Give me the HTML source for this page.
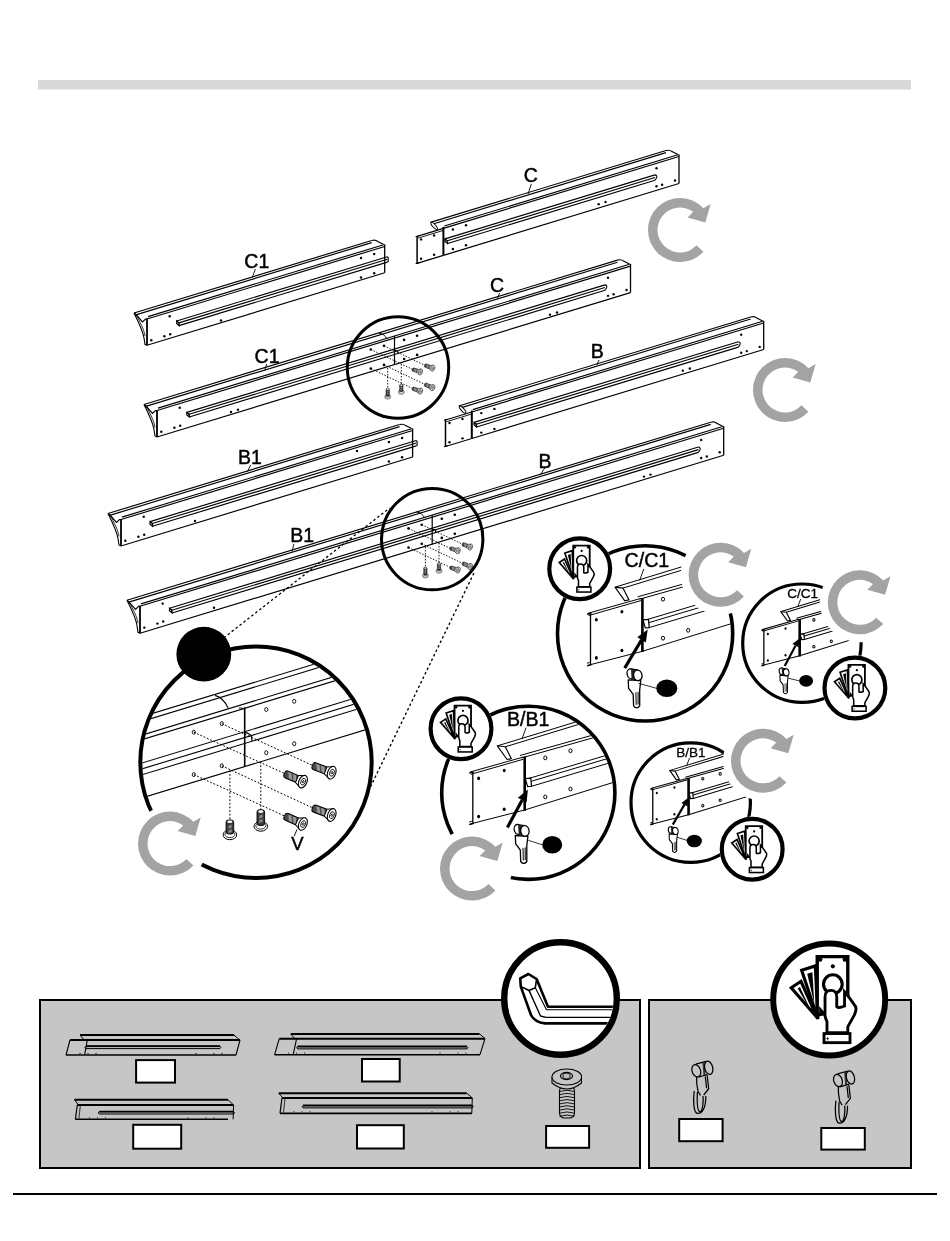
<!DOCTYPE html>
<html><head><meta charset="utf-8"><title>Assembly</title>
<style>html,body{margin:0;padding:0;background:#fff;} body{width:950px;height:1241px;position:relative;overflow:hidden;font-family:"Liberation Sans",sans-serif;}</style>
</head><body>
<svg width="950" height="1241" viewBox="0 0 950 1241" style="position:absolute;left:0;top:0;will-change:transform">
<rect x="0" y="0" width="950" height="1241" fill="#fff"/>
<rect x="38" y="80" width="873" height="9.5" fill="#d8d8d8"/>
<g stroke="#000" fill="none">
<polygon points="443.4,228.4 679,156.54 679,183.54 443.4,255.4" fill="#fff" stroke="none"/>
<line x1="443.4" y1="228.4" x2="679" y2="156.54" stroke="#000" stroke-width="1.15" />
<line x1="444.4" y1="226" x2="678" y2="154.75" stroke="#000" stroke-width="1.15" />
<line x1="430.4" y1="222.4" x2="666" y2="150.54" stroke="#000" stroke-width="1.15" />
<line x1="431.4" y1="224.5" x2="666" y2="152.64" stroke="#000" stroke-width="1.15" />
<path d="M666,150.54 Q670,149.54 672,151.54 L678,154.54" stroke="#000" stroke-width="1.15" fill="none" />
<line x1="679" y1="154.34" x2="679" y2="183.54" stroke="#000" stroke-width="1.3" />
<line x1="443.4" y1="255.4" x2="679" y2="183.54" stroke="#000" stroke-width="1.15" />
<line x1="445" y1="238.91" x2="655" y2="174.86" stroke="#000" stroke-width="1.15" />
<line x1="446.5" y1="241.05" x2="655" y2="177.46" stroke="#000" stroke-width="1.15" />
<line x1="447.5" y1="243.55" x2="655" y2="180.26" stroke="#000" stroke-width="1.15" />
<path d="M445,238.91 L445,241.41 L447.5,243.55 L447.5,240.75Z" stroke="#000" stroke-width="1.2" fill="none" />
<path d="M655,174.86 Q657.6,175.66 656.5,177.96 L655,180.26" stroke="#000" stroke-width="1.1" fill="none" />
<polygon points="417.1,236.42 443.4,228.4 443.4,255.4 417.1,263.42" fill="#fff" stroke="none"/>
<line x1="417.1" y1="236.42" x2="443.4" y2="228.4" stroke="#000" stroke-width="1.15" />
<line x1="418.1" y1="238.12" x2="443.4" y2="230.4" stroke="#000" stroke-width="0.9" />
<line x1="417.1" y1="235.92" x2="417.1" y2="263.92" stroke="#000" stroke-width="1.5" />
<line x1="415.6" y1="236.72" x2="419.1" y2="235.72" stroke="#000" stroke-width="1.15" />
<line x1="415.6" y1="263.72" x2="419.1" y2="262.72" stroke="#000" stroke-width="1.15" />
<line x1="417.1" y1="263.42" x2="443.4" y2="255.4" stroke="#000" stroke-width="1.15" />
<line x1="443.4" y1="226.9" x2="443.4" y2="255.4" stroke="#000" stroke-width="2.0" />
<ellipse cx="434.2" cy="226" rx="4.6" ry="1.5" transform="rotate(48 434.2 226)" stroke-width="1.0" fill="#fff"/>
<circle cx="421.1" cy="239.4" r="1.2" fill="#000" stroke="none"/>
<circle cx="434.1" cy="235.44" r="1.2" fill="#000" stroke="none"/>
<circle cx="421.1" cy="258.7" r="1.2" fill="#000" stroke="none"/>
<circle cx="434.1" cy="254.74" r="1.2" fill="#000" stroke="none"/>
<circle cx="452.9" cy="229.5" r="1.2" fill="#000" stroke="none"/>
<circle cx="466" cy="225.31" r="1.2" fill="#000" stroke="none"/>
<circle cx="452.9" cy="249" r="1.2" fill="#000" stroke="none"/>
<circle cx="466" cy="245.31" r="1.2" fill="#000" stroke="none"/>
<circle cx="656.5" cy="168.2" r="1.2" fill="#000" stroke="none"/>
<circle cx="656.5" cy="186.3" r="1.2" fill="#000" stroke="none"/>
<circle cx="662.1" cy="184.7" r="1.2" fill="#000" stroke="none"/>
<circle cx="675" cy="180.46" r="1.2" fill="#000" stroke="none"/>
<circle cx="598.7" cy="204.13" r="1.2" fill="#000" stroke="none"/>
<circle cx="605.5" cy="202.06" r="1.2" fill="#000" stroke="none"/>
</g>
<g stroke="#000" fill="none">
<polygon points="147,319 384.7,246.5 384.7,272.8 147,345.3" fill="#fff" stroke="none"/>
<line x1="147" y1="319" x2="384.7" y2="246.5" stroke="#000" stroke-width="1.15" />
<line x1="148" y1="316.59" x2="383.7" y2="244.71" stroke="#000" stroke-width="1.15" />
<line x1="134" y1="313" x2="371.7" y2="240.5" stroke="#000" stroke-width="1.15" />
<line x1="135" y1="315.1" x2="371.7" y2="242.6" stroke="#000" stroke-width="1.15" />
<path d="M371.7,240.5 Q375.7,239.5 377.7,241.5 L383.7,244.5" stroke="#000" stroke-width="1.15" fill="none" />
<line x1="384.7" y1="244.3" x2="384.7" y2="272.8" stroke="#000" stroke-width="1.3" />
<line x1="147" y1="345.3" x2="384.7" y2="272.8" stroke="#000" stroke-width="1.15" />
<line x1="176.6" y1="320.97" x2="387.4" y2="256.68" stroke="#000" stroke-width="1.15" />
<line x1="178.1" y1="323.11" x2="387.4" y2="259.28" stroke="#000" stroke-width="1.15" />
<line x1="179.1" y1="325.61" x2="387.4" y2="262.08" stroke="#000" stroke-width="1.15" />
<path d="M176.6,320.97 L176.6,323.47 L179.1,325.61 L179.1,322.81Z" stroke="#000" stroke-width="1.2" fill="none" />
<path d="M387.4,256.68 L388.2,257.88 L388.2,261.58 L387.4,262.08" stroke="#000" stroke-width="1.1" fill="none" />
<path d="M134,313 L136,314.5 L142.5,322 L145.5,319 L147,319" stroke="#000" stroke-width="1.15" fill="none" />
<path d="M134,313 C139,323 143,331 144,338 L145,344.3 L147,345.3" stroke="#000" stroke-width="1.1" fill="none" />
<path d="M136,314.5 C140,322 144,329 145,336" stroke="#000" stroke-width="0.8" fill="none" />
<line x1="147" y1="318.5" x2="147" y2="345.3" stroke="#000" stroke-width="1.8" />
<circle cx="169.7" cy="316.28" r="1.2" fill="#000" stroke="none"/>
<circle cx="151.3" cy="340.29" r="1.2" fill="#000" stroke="none"/>
<circle cx="164.4" cy="336.29" r="1.2" fill="#000" stroke="none"/>
<circle cx="170.2" cy="334.22" r="1.2" fill="#000" stroke="none"/>
<circle cx="361" cy="257.93" r="1.2" fill="#000" stroke="none"/>
<circle cx="374.2" cy="254" r="1.2" fill="#000" stroke="none"/>
<circle cx="361" cy="277.43" r="1.2" fill="#000" stroke="none"/>
<circle cx="374.2" cy="273.2" r="1.2" fill="#000" stroke="none"/>
<circle cx="221" cy="320.43" r="1.2" fill="#000" stroke="none"/>
</g>
<g stroke="#000" fill="none">
<polygon points="157,410.5 630.5,266.08 630.5,292.58 157,437" fill="#fff" stroke="none"/>
<line x1="157" y1="410.5" x2="630.5" y2="266.08" stroke="#000" stroke-width="1.15" />
<line x1="158" y1="408.09" x2="629.5" y2="264.29" stroke="#000" stroke-width="1.15" />
<line x1="144" y1="404.5" x2="617.5" y2="260.08" stroke="#000" stroke-width="1.15" />
<line x1="145" y1="406.6" x2="617.5" y2="262.18" stroke="#000" stroke-width="1.15" />
<path d="M617.5,260.08 Q621.5,259.08 623.5,261.08 L629.5,264.08" stroke="#000" stroke-width="1.15" fill="none" />
<line x1="630.5" y1="263.88" x2="630.5" y2="292.58" stroke="#000" stroke-width="1.3" />
<line x1="157" y1="437" x2="630.5" y2="292.58" stroke="#000" stroke-width="1.15" />
<line x1="186.8" y1="412.41" x2="605" y2="284.86" stroke="#000" stroke-width="1.15" />
<line x1="188.3" y1="414.55" x2="605" y2="287.46" stroke="#000" stroke-width="1.15" />
<line x1="189.3" y1="417.05" x2="605" y2="290.26" stroke="#000" stroke-width="1.15" />
<path d="M186.8,412.41 L186.8,414.91 L189.3,417.05 L189.3,414.25Z" stroke="#000" stroke-width="1.2" fill="none" />
<path d="M605,284.86 Q607.6,285.66 606.5,287.96 L605,290.26" stroke="#000" stroke-width="1.1" fill="none" />
<path d="M144,404.5 L146,406 L152.5,413.5 L155.5,410.5 L157,410.5" stroke="#000" stroke-width="1.15" fill="none" />
<path d="M144,404.5 C149,414.5 153,422.5 154,429.5 L155,436 L157,437" stroke="#000" stroke-width="1.1" fill="none" />
<path d="M146,406 C150,413.5 154,420.5 155,427.5" stroke="#000" stroke-width="0.8" fill="none" />
<line x1="157" y1="410" x2="157" y2="437" stroke="#000" stroke-width="1.8" />
<line x1="394.5" y1="336.06" x2="394.5" y2="364.56" stroke="#000" stroke-width="1.2" />
<circle cx="179.7" cy="407.78" r="1.2" fill="#000" stroke="none"/>
<circle cx="161.3" cy="431.79" r="1.2" fill="#000" stroke="none"/>
<circle cx="174.4" cy="427.79" r="1.2" fill="#000" stroke="none"/>
<circle cx="180.2" cy="425.72" r="1.2" fill="#000" stroke="none"/>
<circle cx="608" cy="277.75" r="1.2" fill="#000" stroke="none"/>
<circle cx="608" cy="295.84" r="1.2" fill="#000" stroke="none"/>
<circle cx="613.6" cy="294.24" r="1.2" fill="#000" stroke="none"/>
<circle cx="626.5" cy="290" r="1.2" fill="#000" stroke="none"/>
<circle cx="231" cy="411.93" r="1.2" fill="#000" stroke="none"/>
<circle cx="238" cy="409.8" r="1.2" fill="#000" stroke="none"/>
<circle cx="550" cy="314.63" r="1.2" fill="#000" stroke="none"/>
<circle cx="557" cy="312.5" r="1.2" fill="#000" stroke="none"/>
</g>
<g stroke="#000" fill="none">
<polygon points="471.8,412 763.7,322.97 763.7,349.47 471.8,438.5" fill="#fff" stroke="none"/>
<line x1="471.8" y1="412" x2="763.7" y2="322.97" stroke="#000" stroke-width="1.15" />
<line x1="472.8" y1="409.59" x2="762.7" y2="321.18" stroke="#000" stroke-width="1.15" />
<line x1="458.8" y1="406" x2="750.7" y2="316.97" stroke="#000" stroke-width="1.15" />
<line x1="459.8" y1="408.1" x2="750.7" y2="319.07" stroke="#000" stroke-width="1.15" />
<path d="M750.7,316.97 Q754.7,315.97 756.7,317.97 L762.7,320.97" stroke="#000" stroke-width="1.15" fill="none" />
<line x1="763.7" y1="320.77" x2="763.7" y2="349.47" stroke="#000" stroke-width="1.3" />
<line x1="471.8" y1="438.5" x2="763.7" y2="349.47" stroke="#000" stroke-width="1.15" />
<line x1="474" y1="422.33" x2="738.4" y2="341.69" stroke="#000" stroke-width="1.15" />
<line x1="475.5" y1="424.47" x2="738.4" y2="344.29" stroke="#000" stroke-width="1.15" />
<line x1="476.5" y1="426.97" x2="738.4" y2="347.09" stroke="#000" stroke-width="1.15" />
<path d="M474,422.33 L474,424.83 L476.5,426.97 L476.5,424.17Z" stroke="#000" stroke-width="1.2" fill="none" />
<path d="M738.4,341.69 Q741,342.49 739.9,344.79 L738.4,347.09" stroke="#000" stroke-width="1.1" fill="none" />
<polygon points="445.5,420.02 471.8,412 471.8,438.5 445.5,446.52" fill="#fff" stroke="none"/>
<line x1="445.5" y1="420.02" x2="471.8" y2="412" stroke="#000" stroke-width="1.15" />
<line x1="446.5" y1="421.72" x2="471.8" y2="414" stroke="#000" stroke-width="0.9" />
<line x1="445.5" y1="419.52" x2="445.5" y2="447.02" stroke="#000" stroke-width="1.5" />
<line x1="444" y1="420.32" x2="447.5" y2="419.32" stroke="#000" stroke-width="1.15" />
<line x1="444" y1="446.82" x2="447.5" y2="445.82" stroke="#000" stroke-width="1.15" />
<line x1="445.5" y1="446.52" x2="471.8" y2="438.5" stroke="#000" stroke-width="1.15" />
<line x1="471.8" y1="410.5" x2="471.8" y2="438.5" stroke="#000" stroke-width="2.0" />
<ellipse cx="462.6" cy="409.6" rx="4.6" ry="1.5" transform="rotate(48 462.6 409.6)" stroke-width="1.0" fill="#fff"/>
<circle cx="449.5" cy="423" r="1.2" fill="#000" stroke="none"/>
<circle cx="462.5" cy="419.04" r="1.2" fill="#000" stroke="none"/>
<circle cx="449.5" cy="442.3" r="1.2" fill="#000" stroke="none"/>
<circle cx="462.5" cy="438.34" r="1.2" fill="#000" stroke="none"/>
<circle cx="481.3" cy="413.1" r="1.2" fill="#000" stroke="none"/>
<circle cx="494.4" cy="408.91" r="1.2" fill="#000" stroke="none"/>
<circle cx="481.3" cy="432.6" r="1.2" fill="#000" stroke="none"/>
<circle cx="494.4" cy="428.91" r="1.2" fill="#000" stroke="none"/>
<circle cx="741.2" cy="334.63" r="1.2" fill="#000" stroke="none"/>
<circle cx="741.2" cy="352.73" r="1.2" fill="#000" stroke="none"/>
<circle cx="746.8" cy="351.12" r="1.2" fill="#000" stroke="none"/>
<circle cx="759.7" cy="346.89" r="1.2" fill="#000" stroke="none"/>
<circle cx="682.8" cy="370.65" r="1.2" fill="#000" stroke="none"/>
<circle cx="689.8" cy="368.51" r="1.2" fill="#000" stroke="none"/>
</g>
<g stroke="#000" fill="none">
<polygon points="121,519.5 412.6,430.56 412.6,457.06 121,546" fill="#fff" stroke="none"/>
<line x1="121" y1="519.5" x2="412.6" y2="430.56" stroke="#000" stroke-width="1.15" />
<line x1="122" y1="517.1" x2="411.6" y2="428.77" stroke="#000" stroke-width="1.15" />
<line x1="108" y1="513.5" x2="399.6" y2="424.56" stroke="#000" stroke-width="1.15" />
<line x1="109" y1="515.6" x2="399.6" y2="426.66" stroke="#000" stroke-width="1.15" />
<path d="M399.6,424.56 Q403.6,423.56 405.6,425.56 L411.6,428.56" stroke="#000" stroke-width="1.15" fill="none" />
<line x1="412.6" y1="428.36" x2="412.6" y2="457.06" stroke="#000" stroke-width="1.3" />
<line x1="121" y1="546" x2="412.6" y2="457.06" stroke="#000" stroke-width="1.15" />
<line x1="150" y1="521.65" x2="416.3" y2="440.43" stroke="#000" stroke-width="1.15" />
<line x1="151.5" y1="523.8" x2="416.3" y2="443.03" stroke="#000" stroke-width="1.15" />
<line x1="152.5" y1="526.29" x2="416.3" y2="445.83" stroke="#000" stroke-width="1.15" />
<path d="M150,521.65 L150,524.15 L152.5,526.29 L152.5,523.49Z" stroke="#000" stroke-width="1.2" fill="none" />
<path d="M416.3,440.43 L417.1,441.63 L417.1,445.33 L416.3,445.83" stroke="#000" stroke-width="1.1" fill="none" />
<path d="M108,513.5 L110,515 L116.5,522.5 L119.5,519.5 L121,519.5" stroke="#000" stroke-width="1.15" fill="none" />
<path d="M108,513.5 C113,523.5 117,531.5 118,538.5 L119,545 L121,546" stroke="#000" stroke-width="1.1" fill="none" />
<path d="M110,515 C114,522.5 118,529.5 119,536.5" stroke="#000" stroke-width="0.8" fill="none" />
<line x1="121" y1="519" x2="121" y2="546" stroke="#000" stroke-width="1.8" />
<circle cx="143.7" cy="516.78" r="1.2" fill="#000" stroke="none"/>
<circle cx="125.3" cy="540.79" r="1.2" fill="#000" stroke="none"/>
<circle cx="138.4" cy="536.79" r="1.2" fill="#000" stroke="none"/>
<circle cx="144.2" cy="534.72" r="1.2" fill="#000" stroke="none"/>
<circle cx="388.9" cy="441.99" r="1.2" fill="#000" stroke="none"/>
<circle cx="402.1" cy="438.06" r="1.2" fill="#000" stroke="none"/>
<circle cx="388.9" cy="461.49" r="1.2" fill="#000" stroke="none"/>
<circle cx="402.1" cy="457.26" r="1.2" fill="#000" stroke="none"/>
<circle cx="195" cy="520.93" r="1.2" fill="#000" stroke="none"/>
<circle cx="357" cy="451.02" r="1.2" fill="#000" stroke="none"/>
</g>
<g stroke="#000" fill="none">
<polygon points="140,606.3 723.7,428.27 723.7,455.27 140,633.3" fill="#fff" stroke="none"/>
<line x1="140" y1="606.3" x2="723.7" y2="428.27" stroke="#000" stroke-width="1.15" />
<line x1="141" y1="603.89" x2="722.7" y2="426.48" stroke="#000" stroke-width="1.15" />
<line x1="127" y1="600.3" x2="710.7" y2="422.27" stroke="#000" stroke-width="1.15" />
<line x1="128" y1="602.4" x2="710.7" y2="424.37" stroke="#000" stroke-width="1.15" />
<path d="M710.7,422.27 Q714.7,421.27 716.7,423.27 L722.7,426.27" stroke="#000" stroke-width="1.15" fill="none" />
<line x1="723.7" y1="426.07" x2="723.7" y2="455.27" stroke="#000" stroke-width="1.3" />
<line x1="140" y1="633.3" x2="723.7" y2="455.27" stroke="#000" stroke-width="1.15" />
<line x1="169.5" y1="608.3" x2="698.4" y2="446.99" stroke="#000" stroke-width="1.15" />
<line x1="171" y1="610.44" x2="698.4" y2="449.59" stroke="#000" stroke-width="1.15" />
<line x1="172" y1="612.94" x2="698.4" y2="452.39" stroke="#000" stroke-width="1.15" />
<path d="M169.5,608.3 L169.5,610.8 L172,612.94 L172,610.14Z" stroke="#000" stroke-width="1.2" fill="none" />
<path d="M698.4,446.99 Q701,447.79 699.9,450.09 L698.4,452.39" stroke="#000" stroke-width="1.1" fill="none" />
<path d="M127,600.3 L129,601.8 L135.5,609.3 L138.5,606.3 L140,606.3" stroke="#000" stroke-width="1.15" fill="none" />
<path d="M127,600.3 C132,610.3 136,618.3 137,625.3 L138,632.3 L140,633.3" stroke="#000" stroke-width="1.1" fill="none" />
<path d="M129,601.8 C133,609.3 137,616.3 138,623.3" stroke="#000" stroke-width="0.8" fill="none" />
<line x1="140" y1="605.8" x2="140" y2="633.3" stroke="#000" stroke-width="1.8" />
<line x1="432.2" y1="515.18" x2="432.2" y2="544.18" stroke="#000" stroke-width="1.2" />
<circle cx="162.7" cy="603.58" r="1.2" fill="#000" stroke="none"/>
<circle cx="144.3" cy="627.59" r="1.2" fill="#000" stroke="none"/>
<circle cx="157.4" cy="623.59" r="1.2" fill="#000" stroke="none"/>
<circle cx="163.2" cy="621.52" r="1.2" fill="#000" stroke="none"/>
<circle cx="701.2" cy="439.93" r="1.2" fill="#000" stroke="none"/>
<circle cx="701.2" cy="458.03" r="1.2" fill="#000" stroke="none"/>
<circle cx="706.8" cy="456.43" r="1.2" fill="#000" stroke="none"/>
<circle cx="719.7" cy="452.19" r="1.2" fill="#000" stroke="none"/>
<circle cx="214" cy="607.73" r="1.2" fill="#000" stroke="none"/>
<circle cx="644" cy="476.58" r="1.2" fill="#000" stroke="none"/>
<circle cx="650.5" cy="474.6" r="1.2" fill="#000" stroke="none"/>
</g>
<text x="523.8" y="182.2" font-size="19.5" font-family="Liberation Sans, sans-serif" fill="#000" stroke="#000" stroke-width="0.45">C</text>
<line x1="531.4" y1="183.9" x2="528" y2="194" stroke="#000" stroke-width="0.9"/>
<text x="244.3" y="267.9" font-size="19.5" font-family="Liberation Sans, sans-serif" fill="#000" stroke="#000" stroke-width="0.45">C1</text>
<line x1="255.4" y1="269" x2="252.3" y2="277.4" stroke="#000" stroke-width="0.9"/>
<text x="254.6" y="362.6" font-size="19.5" font-family="Liberation Sans, sans-serif" fill="#000" stroke="#000" stroke-width="0.45">C1</text>
<line x1="266.7" y1="364" x2="264.8" y2="370.2" stroke="#000" stroke-width="0.9"/>
<text x="489.9" y="292" font-size="19.5" font-family="Liberation Sans, sans-serif" fill="#000" stroke="#000" stroke-width="0.45">C</text>
<line x1="499.6" y1="293" x2="497.4" y2="298.6" stroke="#000" stroke-width="0.9"/>
<text x="590.7" y="358.3" font-size="19.5" font-family="Liberation Sans, sans-serif" fill="#000" stroke="#000" stroke-width="0.45">B</text>
<line x1="599" y1="360" x2="596.8" y2="365" stroke="#000" stroke-width="0.9"/>
<text x="238.1" y="464" font-size="19.5" font-family="Liberation Sans, sans-serif" fill="#000" stroke="#000" stroke-width="0.45">B1</text>
<line x1="250.6" y1="465" x2="247.5" y2="471.7" stroke="#000" stroke-width="0.9"/>
<text x="538.4" y="467.6" font-size="19.5" font-family="Liberation Sans, sans-serif" fill="#000" stroke="#000" stroke-width="0.45">B</text>
<line x1="544.7" y1="468" x2="540.5" y2="474.7" stroke="#000" stroke-width="0.9"/>
<text x="290.2" y="542.1" font-size="19.5" font-family="Liberation Sans, sans-serif" fill="#000" stroke="#000" stroke-width="0.45">B1</text>
<line x1="293.9" y1="544" x2="292" y2="551.6" stroke="#000" stroke-width="0.9"/>
<circle cx="370.8" cy="349.5" r="1.3" fill="#000" stroke="none"/>
<circle cx="384" cy="345.8" r="1.3" fill="#000" stroke="none"/>
<circle cx="370.8" cy="368.6" r="1.3" fill="#000" stroke="none"/>
<circle cx="384" cy="364.9" r="1.3" fill="#000" stroke="none"/>
<circle cx="404.1" cy="339.9" r="1.3" fill="#000" stroke="none"/>
<circle cx="417.1" cy="335.8" r="1.3" fill="#000" stroke="none"/>
<circle cx="404.1" cy="359" r="1.3" fill="#000" stroke="none"/>
<circle cx="417.1" cy="354.9" r="1.3" fill="#000" stroke="none"/>
<line x1="384" y1="345.8" x2="424.6" y2="365.2" stroke="#000" stroke-width="0.9" stroke-dasharray="1.5 1.5"/>
<line x1="370.8" y1="349.5" x2="412.3" y2="369.3" stroke="#000" stroke-width="0.9" stroke-dasharray="1.5 1.5"/>
<line x1="384" y1="364.9" x2="424.6" y2="384.3" stroke="#000" stroke-width="0.9" stroke-dasharray="1.5 1.5"/>
<line x1="370.8" y1="368.6" x2="412.3" y2="388.4" stroke="#000" stroke-width="0.9" stroke-dasharray="1.5 1.5"/>
<line x1="387.7" y1="368" x2="387.7" y2="388.4" stroke="#000" stroke-width="0.9" stroke-dasharray="1.5 1.5"/>
<line x1="401.3" y1="364" x2="401.3" y2="384.3" stroke="#000" stroke-width="0.9" stroke-dasharray="1.5 1.5"/>
<g transform="translate(424.6,365.2) rotate(20.1)" stroke="#000">
<rect x="0" y="-1.78" width="6.57" height="3.55" rx="1.24" fill="#4a4a4a" stroke-width="0.48"/>
<path d="M1.44,-1.39 L3.07,-1.39 L4.51,1.39 L2.88,1.39 Z" fill="#9a9a9a" stroke="none"/>
<path d="M3.84,-1.39 L5.47,-1.39 L6.91,1.39 L5.28,1.39 Z" fill="#9a9a9a" stroke="none"/>
<path d="M5.61,-1.78 L8.49,-3.07 L8.49,3.07 L5.61,1.78 Z" fill="#fff" stroke-width="0.48"/>
<ellipse cx="8.73" cy="0" rx="1.92" ry="3.17" fill="#fff" stroke-width="0.53"/>
<ellipse cx="8.88" cy="0" rx="1.06" ry="1.73" fill="none" stroke-width="0.38"/>
<ellipse cx="8.88" cy="0" rx="0.38" ry="0.62" fill="none" stroke-width="0.38"/>
</g>
<g transform="translate(412.3,369.3) rotate(18.23)" stroke="#000">
<rect x="0" y="-1.78" width="6.47" height="3.55" rx="1.24" fill="#4a4a4a" stroke-width="0.48"/>
<path d="M1.44,-1.39 L3.07,-1.39 L4.51,1.39 L2.88,1.39 Z" fill="#9a9a9a" stroke="none"/>
<path d="M3.84,-1.39 L5.47,-1.39 L6.91,1.39 L5.28,1.39 Z" fill="#9a9a9a" stroke="none"/>
<path d="M5.51,-1.78 L8.39,-3.07 L8.39,3.07 L5.51,1.78 Z" fill="#fff" stroke-width="0.48"/>
<ellipse cx="8.63" cy="0" rx="1.92" ry="3.17" fill="#fff" stroke-width="0.53"/>
<ellipse cx="8.78" cy="0" rx="1.06" ry="1.73" fill="none" stroke-width="0.38"/>
<ellipse cx="8.78" cy="0" rx="0.38" ry="0.62" fill="none" stroke-width="0.38"/>
</g>
<g transform="translate(424.6,384.3) rotate(23.11)" stroke="#000">
<rect x="0" y="-1.78" width="6.76" height="3.55" rx="1.24" fill="#4a4a4a" stroke-width="0.48"/>
<path d="M1.44,-1.39 L3.07,-1.39 L4.51,1.39 L2.88,1.39 Z" fill="#9a9a9a" stroke="none"/>
<path d="M3.84,-1.39 L5.47,-1.39 L6.91,1.39 L5.28,1.39 Z" fill="#9a9a9a" stroke="none"/>
<path d="M5.8,-1.78 L8.68,-3.07 L8.68,3.07 L5.8,1.78 Z" fill="#fff" stroke-width="0.48"/>
<ellipse cx="8.92" cy="0" rx="1.92" ry="3.17" fill="#fff" stroke-width="0.53"/>
<ellipse cx="9.06" cy="0" rx="1.06" ry="1.73" fill="none" stroke-width="0.38"/>
<ellipse cx="9.06" cy="0" rx="0.38" ry="0.62" fill="none" stroke-width="0.38"/>
</g>
<g transform="translate(412.3,388.4) rotate(18.85)" stroke="#000">
<rect x="0" y="-1.78" width="6.5" height="3.55" rx="1.24" fill="#4a4a4a" stroke-width="0.48"/>
<path d="M1.44,-1.39 L3.07,-1.39 L4.51,1.39 L2.88,1.39 Z" fill="#9a9a9a" stroke="none"/>
<path d="M3.84,-1.39 L5.47,-1.39 L6.91,1.39 L5.28,1.39 Z" fill="#9a9a9a" stroke="none"/>
<path d="M5.54,-1.78 L8.42,-3.07 L8.42,3.07 L5.54,1.78 Z" fill="#fff" stroke-width="0.48"/>
<ellipse cx="8.66" cy="0" rx="1.92" ry="3.17" fill="#fff" stroke-width="0.53"/>
<ellipse cx="8.81" cy="0" rx="1.06" ry="1.73" fill="none" stroke-width="0.38"/>
<ellipse cx="8.81" cy="0" rx="0.38" ry="0.62" fill="none" stroke-width="0.38"/>
</g>
<ellipse cx="387.7" cy="396.86" rx="3.06" ry="2.21" fill="#fff" stroke="#000" stroke-width="0.45"/>
<ellipse cx="387.7" cy="396.63" rx="2.25" ry="1.48" fill="#fff" stroke="#000" stroke-width="0.36"/>
<rect x="385.99" y="388.4" width="3.42" height="8.1" rx="1.03" fill="#3a3a3a" stroke="#000" stroke-width="0.41"/>
<ellipse cx="387.7" cy="389.21" rx="1.17" ry="0.59" fill="#fff" stroke="none"/>
<path d="M387.02,391.1 L388.51,390.42 L388.51,391.77 L387.02,392.45 Z" fill="#8a8a8a" stroke="none"/>
<path d="M387.02,393.12 L388.51,392.45 L388.51,393.8 L387.02,394.48 Z" fill="#8a8a8a" stroke="none"/>
<ellipse cx="401.3" cy="392.16" rx="3.06" ry="2.21" fill="#fff" stroke="#000" stroke-width="0.45"/>
<ellipse cx="401.3" cy="391.94" rx="2.25" ry="1.48" fill="#fff" stroke="#000" stroke-width="0.36"/>
<rect x="399.59" y="384.3" width="3.42" height="7.5" rx="1.03" fill="#3a3a3a" stroke="#000" stroke-width="0.41"/>
<ellipse cx="401.3" cy="385.11" rx="1.17" ry="0.59" fill="#fff" stroke="none"/>
<path d="M400.62,387 L402.11,386.32 L402.11,387.68 L400.62,388.35 Z" fill="#8a8a8a" stroke="none"/>
<path d="M400.62,389.03 L402.11,388.35 L402.11,389.7 L400.62,390.38 Z" fill="#8a8a8a" stroke="none"/>
<path d="M378.8,333 Q384.5,333.8 387,339.2" stroke="#000" stroke-width="1.0" fill="none" />
<path d="M394.5,350.1 L397.9,351.3 L397.9,353.6" stroke="#000" stroke-width="1.0" fill="none" />
<circle cx="398" cy="367.5" r="50.7" fill="none" stroke="#000" stroke-width="3"/>
<circle cx="408.5" cy="528.4" r="1.3" fill="#000" stroke="none"/>
<circle cx="421.7" cy="524.7" r="1.3" fill="#000" stroke="none"/>
<circle cx="408.5" cy="547.5" r="1.3" fill="#000" stroke="none"/>
<circle cx="421.7" cy="543.8" r="1.3" fill="#000" stroke="none"/>
<circle cx="441.8" cy="518.8" r="1.3" fill="#000" stroke="none"/>
<circle cx="454.8" cy="514.7" r="1.3" fill="#000" stroke="none"/>
<circle cx="441.8" cy="537.9" r="1.3" fill="#000" stroke="none"/>
<circle cx="454.8" cy="533.8" r="1.3" fill="#000" stroke="none"/>
<line x1="421.7" y1="524.7" x2="462.3" y2="544.1" stroke="#000" stroke-width="0.9" stroke-dasharray="1.5 1.5"/>
<line x1="408.5" y1="528.4" x2="450" y2="548.2" stroke="#000" stroke-width="0.9" stroke-dasharray="1.5 1.5"/>
<line x1="421.7" y1="543.8" x2="462.3" y2="563.2" stroke="#000" stroke-width="0.9" stroke-dasharray="1.5 1.5"/>
<line x1="408.5" y1="547.5" x2="450" y2="567.3" stroke="#000" stroke-width="0.9" stroke-dasharray="1.5 1.5"/>
<line x1="425.4" y1="546.9" x2="425.4" y2="567.3" stroke="#000" stroke-width="0.9" stroke-dasharray="1.5 1.5"/>
<line x1="439" y1="542.9" x2="439" y2="563.2" stroke="#000" stroke-width="0.9" stroke-dasharray="1.5 1.5"/>
<g transform="translate(462.3,544.1) rotate(20.1)" stroke="#000">
<rect x="0" y="-1.78" width="6.57" height="3.55" rx="1.24" fill="#4a4a4a" stroke-width="0.48"/>
<path d="M1.44,-1.39 L3.07,-1.39 L4.51,1.39 L2.88,1.39 Z" fill="#9a9a9a" stroke="none"/>
<path d="M3.84,-1.39 L5.47,-1.39 L6.91,1.39 L5.28,1.39 Z" fill="#9a9a9a" stroke="none"/>
<path d="M5.61,-1.78 L8.49,-3.07 L8.49,3.07 L5.61,1.78 Z" fill="#fff" stroke-width="0.48"/>
<ellipse cx="8.73" cy="0" rx="1.92" ry="3.17" fill="#fff" stroke-width="0.53"/>
<ellipse cx="8.88" cy="0" rx="1.06" ry="1.73" fill="none" stroke-width="0.38"/>
<ellipse cx="8.88" cy="0" rx="0.38" ry="0.62" fill="none" stroke-width="0.38"/>
</g>
<g transform="translate(450,548.2) rotate(18.23)" stroke="#000">
<rect x="0" y="-1.78" width="6.47" height="3.55" rx="1.24" fill="#4a4a4a" stroke-width="0.48"/>
<path d="M1.44,-1.39 L3.07,-1.39 L4.51,1.39 L2.88,1.39 Z" fill="#9a9a9a" stroke="none"/>
<path d="M3.84,-1.39 L5.47,-1.39 L6.91,1.39 L5.28,1.39 Z" fill="#9a9a9a" stroke="none"/>
<path d="M5.51,-1.78 L8.39,-3.07 L8.39,3.07 L5.51,1.78 Z" fill="#fff" stroke-width="0.48"/>
<ellipse cx="8.63" cy="0" rx="1.92" ry="3.17" fill="#fff" stroke-width="0.53"/>
<ellipse cx="8.78" cy="0" rx="1.06" ry="1.73" fill="none" stroke-width="0.38"/>
<ellipse cx="8.78" cy="0" rx="0.38" ry="0.62" fill="none" stroke-width="0.38"/>
</g>
<g transform="translate(462.3,563.2) rotate(23.11)" stroke="#000">
<rect x="0" y="-1.78" width="6.76" height="3.55" rx="1.24" fill="#4a4a4a" stroke-width="0.48"/>
<path d="M1.44,-1.39 L3.07,-1.39 L4.51,1.39 L2.88,1.39 Z" fill="#9a9a9a" stroke="none"/>
<path d="M3.84,-1.39 L5.47,-1.39 L6.91,1.39 L5.28,1.39 Z" fill="#9a9a9a" stroke="none"/>
<path d="M5.8,-1.78 L8.68,-3.07 L8.68,3.07 L5.8,1.78 Z" fill="#fff" stroke-width="0.48"/>
<ellipse cx="8.92" cy="0" rx="1.92" ry="3.17" fill="#fff" stroke-width="0.53"/>
<ellipse cx="9.06" cy="0" rx="1.06" ry="1.73" fill="none" stroke-width="0.38"/>
<ellipse cx="9.06" cy="0" rx="0.38" ry="0.62" fill="none" stroke-width="0.38"/>
</g>
<g transform="translate(450,567.3) rotate(18.85)" stroke="#000">
<rect x="0" y="-1.78" width="6.5" height="3.55" rx="1.24" fill="#4a4a4a" stroke-width="0.48"/>
<path d="M1.44,-1.39 L3.07,-1.39 L4.51,1.39 L2.88,1.39 Z" fill="#9a9a9a" stroke="none"/>
<path d="M3.84,-1.39 L5.47,-1.39 L6.91,1.39 L5.28,1.39 Z" fill="#9a9a9a" stroke="none"/>
<path d="M5.54,-1.78 L8.42,-3.07 L8.42,3.07 L5.54,1.78 Z" fill="#fff" stroke-width="0.48"/>
<ellipse cx="8.66" cy="0" rx="1.92" ry="3.17" fill="#fff" stroke-width="0.53"/>
<ellipse cx="8.81" cy="0" rx="1.06" ry="1.73" fill="none" stroke-width="0.38"/>
<ellipse cx="8.81" cy="0" rx="0.38" ry="0.62" fill="none" stroke-width="0.38"/>
</g>
<ellipse cx="425.4" cy="575.76" rx="3.06" ry="2.21" fill="#fff" stroke="#000" stroke-width="0.45"/>
<ellipse cx="425.4" cy="575.54" rx="2.25" ry="1.48" fill="#fff" stroke="#000" stroke-width="0.36"/>
<rect x="423.69" y="567.3" width="3.42" height="8.1" rx="1.03" fill="#3a3a3a" stroke="#000" stroke-width="0.41"/>
<ellipse cx="425.4" cy="568.11" rx="1.17" ry="0.59" fill="#fff" stroke="none"/>
<path d="M424.72,570 L426.21,569.33 L426.21,570.67 L424.72,571.35 Z" fill="#8a8a8a" stroke="none"/>
<path d="M424.72,572.02 L426.21,571.35 L426.21,572.7 L424.72,573.38 Z" fill="#8a8a8a" stroke="none"/>
<ellipse cx="439" cy="571.06" rx="3.06" ry="2.21" fill="#fff" stroke="#000" stroke-width="0.45"/>
<ellipse cx="439" cy="570.84" rx="2.25" ry="1.48" fill="#fff" stroke="#000" stroke-width="0.36"/>
<rect x="437.29" y="563.2" width="3.42" height="7.5" rx="1.03" fill="#3a3a3a" stroke="#000" stroke-width="0.41"/>
<ellipse cx="439" cy="564.01" rx="1.17" ry="0.59" fill="#fff" stroke="none"/>
<path d="M438.32,565.9 L439.81,565.23 L439.81,566.58 L438.32,567.25 Z" fill="#8a8a8a" stroke="none"/>
<path d="M438.32,567.93 L439.81,567.25 L439.81,568.6 L438.32,569.28 Z" fill="#8a8a8a" stroke="none"/>
<path d="M416.5,511.9 Q422.2,512.7 424.7,518.1" stroke="#000" stroke-width="1.0" fill="none" />
<path d="M432.2,529 L435.6,530.2 L435.6,532.5" stroke="#000" stroke-width="1.0" fill="none" />
<circle cx="432.2" cy="539.1" r="50.7" fill="none" stroke="#000" stroke-width="3"/>
<path d="M703.4,208.18 L710.7,203.9 L705.3,222.4 L687.6,217.4 L693.23,211.8 A22.5,22.5 0 1,0 696.46,245.34 L703.4,251.82 A32,32 0 1,1 703.4,208.18 Z" fill="#a3a3a3" stroke="none"/>
<path d="M808.4,368.18 L815.7,363.9 L810.3,382.4 L792.6,377.4 L798.23,371.8 A22.5,22.5 0 1,0 801.46,405.34 L808.4,411.82 A32,32 0 1,1 808.4,368.18 Z" fill="#a3a3a3" stroke="none"/>
<line x1="223.8" y1="637.8" x2="389.6" y2="508" stroke="#000" stroke-width="1.3" stroke-dasharray="2.5 2.5"/>
<line x1="473.9" y1="573.1" x2="370.1" y2="787.6" stroke="#000" stroke-width="1.3" stroke-dasharray="2.5 2.5"/>
<defs><clipPath id="bigc"><circle cx="256" cy="762.3" r="113.7"/></clipPath></defs>
<circle cx="256" cy="762.3" r="115.7" fill="#fff" stroke="none"/>
<g clip-path="url(#bigc)" stroke="#000" fill="none">
<line x1="130" y1="720.35" x2="380" y2="644.1" stroke="#000" stroke-width="1.1" />
<line x1="130" y1="725.05" x2="380" y2="648.8" stroke="#000" stroke-width="1.1" />
<line x1="130" y1="738.85" x2="380" y2="662.6" stroke="#000" stroke-width="1.1" />
<line x1="130" y1="743.25" x2="380" y2="667" stroke="#000" stroke-width="1.1" />
<line x1="130" y1="766.65" x2="380" y2="690.4" stroke="#000" stroke-width="1.1" />
<line x1="130" y1="772.55" x2="380" y2="696.3" stroke="#000" stroke-width="1.1" />
<line x1="130" y1="778.45" x2="380" y2="702.2" stroke="#000" stroke-width="1.1" />
<line x1="130" y1="801.55" x2="380" y2="725.3" stroke="#000" stroke-width="1.1" />
<line x1="244.7" y1="707.2" x2="244.7" y2="766.8" stroke="#000" stroke-width="1.6" />
<path d="M215,695.4 Q224,698 228.4,708.6" stroke="#000" stroke-width="1.1" fill="none" />
<path d="M244.5,732.3 Q249.5,732.8 251.5,736.5 L252,741" stroke="#000" stroke-width="1.2" fill="none" />
<path d="M239,708 Q243,707.6 244.7,709.5" stroke="#000" stroke-width="1.1" fill="none" />
</g>
<ellipse cx="221.8" cy="723.7" rx="1.6" ry="2" fill="none" stroke="#000" stroke-width="0.9"/>
<ellipse cx="193.8" cy="732.2" rx="1.6" ry="2" fill="none" stroke="#000" stroke-width="0.9"/>
<ellipse cx="221.8" cy="765.8" rx="1.6" ry="2" fill="none" stroke="#000" stroke-width="0.9"/>
<ellipse cx="193.8" cy="774.6" rx="1.6" ry="2" fill="none" stroke="#000" stroke-width="0.9"/>
<ellipse cx="266.3" cy="709.5" rx="1.6" ry="2" fill="none" stroke="#000" stroke-width="0.9"/>
<ellipse cx="294.2" cy="701.3" rx="1.6" ry="2" fill="none" stroke="#000" stroke-width="0.9"/>
<ellipse cx="294.2" cy="743.7" rx="1.6" ry="2" fill="none" stroke="#000" stroke-width="0.9"/>
<ellipse cx="266.3" cy="752.7" rx="1.6" ry="2" fill="none" stroke="#000" stroke-width="0.9"/>
<line x1="221.8" y1="723.7" x2="312.5" y2="765.4" stroke="#000" stroke-width="1.0" stroke-dasharray="1.8 1.8"/>
<line x1="193.8" y1="732.2" x2="284.5" y2="773.5" stroke="#000" stroke-width="1.0" stroke-dasharray="1.8 1.8"/>
<line x1="221.8" y1="765.8" x2="312.5" y2="807.8" stroke="#000" stroke-width="1.0" stroke-dasharray="1.8 1.8"/>
<line x1="193.8" y1="774.6" x2="284.5" y2="815.9" stroke="#000" stroke-width="1.0" stroke-dasharray="1.8 1.8"/>
<line x1="229.9" y1="770.5" x2="229.9" y2="821" stroke="#000" stroke-width="1.0" stroke-dasharray="1.8 1.8"/>
<line x1="260.8" y1="761.7" x2="260.8" y2="810.2" stroke="#000" stroke-width="1.0" stroke-dasharray="1.8 1.8"/>
<g transform="translate(312.5,765.4) rotate(20.82)" stroke="#000">
<rect x="0" y="-3.7" width="16.04" height="7.4" rx="2.59" fill="#4a4a4a" stroke-width="1"/>
<path d="M3,-2.9 L6.4,-2.9 L9.4,2.9 L6,2.9 Z" fill="#9a9a9a" stroke="none"/>
<path d="M8,-2.9 L11.4,-2.9 L14.4,2.9 L11,2.9 Z" fill="#9a9a9a" stroke="none"/>
<path d="M14.04,-3.7 L20.04,-6.4 L20.04,6.4 L14.04,3.7 Z" fill="#fff" stroke-width="1"/>
<ellipse cx="20.54" cy="0" rx="4" ry="6.6" fill="#fff" stroke-width="1.1"/>
<ellipse cx="20.84" cy="0" rx="2.2" ry="3.6" fill="none" stroke-width="0.8"/>
<ellipse cx="20.84" cy="0" rx="0.8" ry="1.3" fill="none" stroke-width="0.8"/>
</g>
<g transform="translate(284.5,773.5) rotate(23.76)" stroke="#000">
<rect x="0" y="-3.7" width="15.6" height="7.4" rx="2.59" fill="#4a4a4a" stroke-width="1"/>
<path d="M3,-2.9 L6.4,-2.9 L9.4,2.9 L6,2.9 Z" fill="#9a9a9a" stroke="none"/>
<path d="M8,-2.9 L11.4,-2.9 L14.4,2.9 L11,2.9 Z" fill="#9a9a9a" stroke="none"/>
<path d="M13.6,-3.7 L19.6,-6.4 L19.6,6.4 L13.6,3.7 Z" fill="#fff" stroke-width="1"/>
<ellipse cx="20.1" cy="0" rx="4" ry="6.6" fill="#fff" stroke-width="1.1"/>
<ellipse cx="20.4" cy="0" rx="2.2" ry="3.6" fill="none" stroke-width="0.8"/>
<ellipse cx="20.4" cy="0" rx="0.8" ry="1.3" fill="none" stroke-width="0.8"/>
</g>
<g transform="translate(312.5,807.8) rotate(20.56)" stroke="#000">
<rect x="0" y="-3.7" width="16.01" height="7.4" rx="2.59" fill="#4a4a4a" stroke-width="1"/>
<path d="M3,-2.9 L6.4,-2.9 L9.4,2.9 L6,2.9 Z" fill="#9a9a9a" stroke="none"/>
<path d="M8,-2.9 L11.4,-2.9 L14.4,2.9 L11,2.9 Z" fill="#9a9a9a" stroke="none"/>
<path d="M14.01,-3.7 L20.01,-6.4 L20.01,6.4 L14.01,3.7 Z" fill="#fff" stroke-width="1"/>
<ellipse cx="20.51" cy="0" rx="4" ry="6.6" fill="#fff" stroke-width="1.1"/>
<ellipse cx="20.81" cy="0" rx="2.2" ry="3.6" fill="none" stroke-width="0.8"/>
<ellipse cx="20.81" cy="0" rx="0.8" ry="1.3" fill="none" stroke-width="0.8"/>
</g>
<g transform="translate(284.5,815.9) rotate(23.76)" stroke="#000">
<rect x="0" y="-3.7" width="15.6" height="7.4" rx="2.59" fill="#4a4a4a" stroke-width="1"/>
<path d="M3,-2.9 L6.4,-2.9 L9.4,2.9 L6,2.9 Z" fill="#9a9a9a" stroke="none"/>
<path d="M8,-2.9 L11.4,-2.9 L14.4,2.9 L11,2.9 Z" fill="#9a9a9a" stroke="none"/>
<path d="M13.6,-3.7 L19.6,-6.4 L19.6,6.4 L13.6,3.7 Z" fill="#fff" stroke-width="1"/>
<ellipse cx="20.1" cy="0" rx="4" ry="6.6" fill="#fff" stroke-width="1.1"/>
<ellipse cx="20.4" cy="0" rx="2.2" ry="3.6" fill="none" stroke-width="0.8"/>
<ellipse cx="20.4" cy="0" rx="0.8" ry="1.3" fill="none" stroke-width="0.8"/>
</g>
<ellipse cx="229.9" cy="834.8" rx="6.8" ry="4.9" fill="#fff" stroke="#000" stroke-width="1"/>
<ellipse cx="229.9" cy="834.3" rx="5" ry="3.3" fill="#fff" stroke="#000" stroke-width="0.8"/>
<rect x="226.1" y="820" width="7.6" height="14" rx="2.28" fill="#3a3a3a" stroke="#000" stroke-width="0.9"/>
<ellipse cx="229.9" cy="821.8" rx="2.6" ry="1.3" fill="#fff" stroke="none"/>
<path d="M228.4,826 L231.7,824.5 L231.7,827.5 L228.4,829 Z" fill="#8a8a8a" stroke="none"/>
<path d="M228.4,830.5 L231.7,829 L231.7,832 L228.4,833.5 Z" fill="#8a8a8a" stroke="none"/>
<ellipse cx="260.8" cy="826.3" rx="6.8" ry="4.9" fill="#fff" stroke="#000" stroke-width="1"/>
<ellipse cx="260.8" cy="825.8" rx="5" ry="3.3" fill="#fff" stroke="#000" stroke-width="0.8"/>
<rect x="257" y="809.8" width="7.6" height="15.7" rx="2.28" fill="#3a3a3a" stroke="#000" stroke-width="0.9"/>
<ellipse cx="260.8" cy="811.6" rx="2.6" ry="1.3" fill="#fff" stroke="none"/>
<path d="M259.3,815.8 L262.6,814.3 L262.6,817.3 L259.3,818.8 Z" fill="#8a8a8a" stroke="none"/>
<path d="M259.3,820.3 L262.6,818.8 L262.6,821.8 L259.3,823.3 Z" fill="#8a8a8a" stroke="none"/>
<circle cx="256" cy="762.3" r="115.7" fill="none" stroke="#000" stroke-width="4"/>
<text x="291.2" y="850.2" font-size="18.5" font-family="Liberation Sans, sans-serif" fill="#000" stroke="#000" stroke-width="0.45">V</text>
<line x1="297" y1="829.4" x2="294.2" y2="836.2" stroke="#000" stroke-width="0.9"/>
<circle cx="170" cy="843.6" r="38" fill="#fff" stroke="none"/>
<path d="M193.4,821.78 L200.7,817.5 L195.3,836 L177.6,831 L183.23,825.4 A22.5,22.5 0 1,0 186.46,858.94 L193.4,865.42 A32,32 0 1,1 193.4,821.78 Z" fill="#a3a3a3" stroke="none"/>
<circle cx="203.8" cy="654.2" r="27.4" fill="#000"/>
<defs><clipPath id="sc1"><circle cx="645.1" cy="633.4" r="85.8"/></clipPath></defs>
<circle cx="645.1" cy="633.4" r="87.6" fill="#fff" stroke="#000" stroke-width="3.6"/>
<g clip-path="url(#sc1)"><g transform="translate(587.5,613.4) scale(1)" stroke="#000" fill="none">
<path d="M0,0 L53.4,-15 M1,2.2 L53.4,-12.8" stroke-width="1"/>
<path d="M3,0 L3,51.5 M-0.5,1 L4,-0.3 M-0.5,52.5 L4,51.2" stroke-width="1.3"/>
<path d="M-0.3,52.1 L54.9,37.9 M-0.5,49.8 L2,49.2" stroke-width="1"/>
<path d="M50.2,-16.6 L160,-47.4 M52,-14.2 L160,-44.6" stroke-width="1"/>
<path d="M28.1,-26.4 L160,-66.6 M35.5,-25.3 L160,-63.3" stroke-width="1"/>
<path d="M27.5,-26.3 L35.5,-25.3 L41.5,-13.5 L37.3,-12.6 Z" stroke-width="1.15" fill="#fff" stroke-linejoin="round"/>
<path d="M56.5,7.1 L160,-23.8 M57.8,10.3 L160,-20.2 M61.7,14.2 L160,-15.3" stroke-width="1"/>
<path d="M55.5,6.5 L61,6 L61.7,14.2 L57.8,14.5 Z" stroke-width="1.2" fill="#fff"/>
<path d="M54.9,37.9 L160,5.2" stroke-width="1"/>
<path d="M54.9,-15.5 L54.9,38.7" stroke-width="2.6"/>
<ellipse cx="8.8" cy="6.3" rx="1.5" ry="1.8" fill="#000" stroke="none"/>
<ellipse cx="34.4" cy="-1.6" rx="1.5" ry="1.8" fill="#000" stroke="none"/>
<ellipse cx="8.8" cy="44.5" rx="1.5" ry="1.8" fill="#000" stroke="none"/>
<ellipse cx="34.4" cy="37.1" rx="1.5" ry="1.8" fill="#000" stroke="none"/>
<ellipse cx="75.5" cy="-14.2" rx="1.6" ry="1.9" stroke-width="1"/>
<ellipse cx="100.7" cy="-21.3" rx="1.6" ry="1.9" stroke-width="1"/>
<ellipse cx="75.5" cy="24.8" rx="1.6" ry="1.9" stroke-width="1"/>
<ellipse cx="100.7" cy="16.9" rx="1.6" ry="1.9" stroke-width="1"/>
</g>
</g>
<circle cx="720.6" cy="574.8" r="40" fill="#fff" stroke="none"/>
<path d="M744,552.98 L751.3,548.7 L745.9,567.2 L728.2,562.2 L733.83,556.6 A22.5,22.5 0 1,0 737.06,590.14 L744,596.62 A32,32 0 1,1 744,552.98 Z" fill="#a3a3a3" stroke="none"/>
<text x="624.6" y="567" font-size="19.6" font-family="Liberation Sans, sans-serif" fill="#000" stroke="#000" stroke-width="0.45">C/C1</text>
<line x1="643.8" y1="569" x2="639.6" y2="580.4" stroke="#000" stroke-width="0.9" />
<line x1="624.7" y1="668.1" x2="641.55" y2="639.9" stroke="#000" stroke-width="3.1" stroke-linecap="butt"/>
<polygon points="647.7,629.6 645.84,642.47 637.25,637.34" fill="#000" stroke="none"/>
<g transform="translate(637.8,675.3) scale(1)" stroke="#000" fill="none" stroke-width="1.3" stroke-linejoin="round">
<path d="M-9.6,4.6 L-9.2,13 L-4.6,19.1 L-4.2,30.6 Q-1.2,34.5 1.9,30.6 L1.9,14.5 L3,5.4 Z" fill="#fff"/>
<path d="M-1.9,17 L-1.6,29.5 M0.3,16.5 L0.3,29.3" stroke-width="1"/>
<path d="M-7.5,-6.3 L-0.5,-5.3 L0.5,5.3 L-6,3.5 Z" fill="#fff"/>
<ellipse cx="-6.9" cy="-1.5" rx="3.8" ry="5" transform="rotate(-12 -6.9 -1.5)" fill="#fff"/>
<path d="M-6.8,-6 L-3.6,-5.6 L-3.2,4.7 L-6.2,4 Z" fill="#222" stroke="none"/>
<ellipse cx="0" cy="0" rx="4.2" ry="5.3" transform="rotate(-12 0 0)" fill="#fff"/>
</g>
<line x1="638.6" y1="683.3" x2="656.5" y2="688.3" stroke="#000" stroke-width="0.8" />
<ellipse cx="666.8" cy="688.3" rx="10.5" ry="8.8" fill="#000"/>
<circle cx="579.7" cy="568.8" r="32.8" fill="#fff" stroke="none"/>
<circle cx="579.7" cy="568.8" r="30.4" fill="#fff" stroke="#000" stroke-width="4.2"/>
<g transform="translate(579.7,568.8) scale(0.07) translate(-487,-490)" stroke="#000" fill="none" stroke-linejoin="miter">
<path d="M195,400 L270,350 L395,630 Z" stroke-width="24" fill="#fff"/>
<path d="M245,405 L262,394 L350,585 Z" fill="#000" stroke="none"/>
<path d="M275,265 L380,232 L400,640 Z" stroke-width="24" fill="#fff"/>
<path d="M318,292 L358,280 L372,520 Z" fill="#000" stroke="none"/>
<path d="M395,610 L395,160 L630,160 L630,560 Z" stroke-width="26" fill="#fff"/>
<circle cx="418" cy="183" r="17" fill="#000" stroke="none"/><circle cx="607" cy="183" r="17" fill="#000" stroke="none"/>
<path d="M410,540 L460,600 L410,600 Z" fill="#000" stroke="none"/>
<circle cx="515" cy="235" r="16" fill="#000" stroke="none"/>
<circle cx="515" cy="372" r="72" stroke-width="24" fill="#fff"/>
<path d="M470,745 L470,660 Q450,620 455,590 L455,470 Q455,420 500,420 Q545,420 545,470 L545,545 Q560,560 605,540 L605,430 Q640,470 690,545 Q700,570 680,610 L630,700 L630,745 Z" stroke-width="22" fill="#fff"/>
<rect x="447" y="752" width="200" height="70" stroke-width="22" fill="#fff"/>
<path d="M475,780 L475,805 M465,790 L485,790" stroke-width="6"/>
</g>
<defs><clipPath id="sc2"><circle cx="801.9" cy="643.2" r="57.6"/></clipPath></defs>
<circle cx="801.9" cy="643.2" r="59.2" fill="#fff" stroke="#000" stroke-width="3.2"/>
<g clip-path="url(#sc2)"><g transform="translate(761.8,629.7) scale(0.69)" stroke="#000" fill="none">
<path d="M0,0 L53.4,-15 M1,2.2 L53.4,-12.8" stroke-width="1.45"/>
<path d="M3,0 L3,51.5 M-0.5,1 L4,-0.3 M-0.5,52.5 L4,51.2" stroke-width="1.88"/>
<path d="M-0.3,52.1 L54.9,37.9 M-0.5,49.8 L2,49.2" stroke-width="1.45"/>
<path d="M50.2,-16.6 L160,-47.4 M52,-14.2 L160,-44.6" stroke-width="1.45"/>
<path d="M28.1,-26.4 L160,-66.6 M35.5,-25.3 L160,-63.3" stroke-width="1.45"/>
<path d="M27.5,-26.3 L35.5,-25.3 L41.5,-13.5 L37.3,-12.6 Z" stroke-width="1.67" fill="#fff" stroke-linejoin="round"/>
<path d="M56.5,7.1 L160,-23.8 M57.8,10.3 L160,-20.2 M61.7,14.2 L160,-15.3" stroke-width="1.45"/>
<path d="M55.5,6.5 L61,6 L61.7,14.2 L57.8,14.5 Z" stroke-width="1.74" fill="#fff"/>
<path d="M54.9,37.9 L160,5.2" stroke-width="1.45"/>
<path d="M54.9,-15.5 L54.9,38.7" stroke-width="3.77"/>
<ellipse cx="8.8" cy="6.3" rx="1.5" ry="1.8" fill="#000" stroke="none"/>
<ellipse cx="34.4" cy="-1.6" rx="1.5" ry="1.8" fill="#000" stroke="none"/>
<ellipse cx="8.8" cy="44.5" rx="1.5" ry="1.8" fill="#000" stroke="none"/>
<ellipse cx="34.4" cy="37.1" rx="1.5" ry="1.8" fill="#000" stroke="none"/>
<ellipse cx="75.5" cy="-14.2" rx="1.6" ry="1.9" stroke-width="1.45"/>
<ellipse cx="100.7" cy="-21.3" rx="1.6" ry="1.9" stroke-width="1.45"/>
<ellipse cx="75.5" cy="24.8" rx="1.6" ry="1.9" stroke-width="1.45"/>
<ellipse cx="100.7" cy="16.9" rx="1.6" ry="1.9" stroke-width="1.45"/>
</g>
</g>
<circle cx="859.8" cy="602.3" r="40" fill="#fff" stroke="none"/>
<path d="M883.2,580.48 L890.5,576.2 L885.1,594.7 L867.4,589.7 L873.03,584.1 A22.5,22.5 0 1,0 876.26,617.64 L883.2,624.12 A32,32 0 1,1 883.2,580.48 Z" fill="#a3a3a3" stroke="none"/>
<text x="787.24" y="597.68" font-size="13.52" font-family="Liberation Sans, sans-serif" fill="#000" stroke="#000" stroke-width="0.31">C/C1</text>
<line x1="800.65" y1="599.06" x2="797.75" y2="606.93" stroke="#000" stroke-width="0.9" />
<line x1="784.7" y1="666" x2="795.51" y2="645.71" stroke="#000" stroke-width="2.139" stroke-linecap="butt"/>
<polygon points="799.4,638.4 798.55,647.33 792.46,644.09" fill="#000" stroke="none"/>
<g transform="translate(786.2,672.3) scale(0.66)" stroke="#000" fill="none" stroke-width="1.6" stroke-linejoin="round">
<path d="M-9.6,4.6 L-9.2,13 L-4.6,19.1 L-4.2,30.6 Q-1.2,34.5 1.9,30.6 L1.9,14.5 L3,5.4 Z" fill="#fff"/>
<path d="M-1.9,17 L-1.6,29.5 M0.3,16.5 L0.3,29.3" stroke-width="1"/>
<path d="M-7.5,-6.3 L-0.5,-5.3 L0.5,5.3 L-6,3.5 Z" fill="#fff"/>
<ellipse cx="-6.9" cy="-1.5" rx="3.8" ry="5" transform="rotate(-12 -6.9 -1.5)" fill="#fff"/>
<path d="M-6.8,-6 L-3.6,-5.6 L-3.2,4.7 L-6.2,4 Z" fill="#222" stroke="none"/>
<ellipse cx="0" cy="0" rx="4.2" ry="5.3" transform="rotate(-12 0 0)" fill="#fff"/>
</g>
<line x1="788.4" y1="678.2" x2="799" y2="680.8" stroke="#000" stroke-width="0.8" />
<ellipse cx="806.1" cy="680.8" rx="7" ry="5.9" fill="#000"/>
<circle cx="854.9" cy="688" r="32.8" fill="#fff" stroke="none"/>
<circle cx="854.9" cy="688" r="30.4" fill="#fff" stroke="#000" stroke-width="4.2"/>
<g transform="translate(854.9,688) scale(0.07) translate(-487,-490)" stroke="#000" fill="none" stroke-linejoin="miter">
<path d="M195,400 L270,350 L395,630 Z" stroke-width="24" fill="#fff"/>
<path d="M245,405 L262,394 L350,585 Z" fill="#000" stroke="none"/>
<path d="M275,265 L380,232 L400,640 Z" stroke-width="24" fill="#fff"/>
<path d="M318,292 L358,280 L372,520 Z" fill="#000" stroke="none"/>
<path d="M395,610 L395,160 L630,160 L630,560 Z" stroke-width="26" fill="#fff"/>
<circle cx="418" cy="183" r="17" fill="#000" stroke="none"/><circle cx="607" cy="183" r="17" fill="#000" stroke="none"/>
<path d="M410,540 L460,600 L410,600 Z" fill="#000" stroke="none"/>
<circle cx="515" cy="235" r="16" fill="#000" stroke="none"/>
<circle cx="515" cy="372" r="72" stroke-width="24" fill="#fff"/>
<path d="M470,745 L470,660 Q450,620 455,590 L455,470 Q455,420 500,420 Q545,420 545,470 L545,545 Q560,560 605,540 L605,430 Q640,470 690,545 Q700,570 680,610 L630,700 L630,745 Z" stroke-width="22" fill="#fff"/>
<rect x="447" y="752" width="200" height="70" stroke-width="22" fill="#fff"/>
<path d="M475,780 L475,805 M465,790 L485,790" stroke-width="6"/>
</g>
<defs><clipPath id="sc3"><circle cx="528.3" cy="792.8" r="84.8"/></clipPath></defs>
<circle cx="528.3" cy="792.8" r="86.6" fill="#fff" stroke="#000" stroke-width="3.6"/>
<g clip-path="url(#sc3)"><g transform="translate(469.8,772.1) scale(1)" stroke="#000" fill="none">
<path d="M0,0 L53.4,-15 M1,2.2 L53.4,-12.8" stroke-width="1"/>
<path d="M3,0 L3,51.5 M-0.5,1 L4,-0.3 M-0.5,52.5 L4,51.2" stroke-width="1.3"/>
<path d="M-0.3,52.1 L54.9,37.9 M-0.5,49.8 L2,49.2" stroke-width="1"/>
<path d="M50.2,-16.6 L160,-47.4 M52,-14.2 L160,-44.6" stroke-width="1"/>
<path d="M28.1,-26.4 L160,-66.6 M35.5,-25.3 L160,-63.3" stroke-width="1"/>
<path d="M27.5,-26.3 L35.5,-25.3 L41.5,-13.5 L37.3,-12.6 Z" stroke-width="1.15" fill="#fff" stroke-linejoin="round"/>
<path d="M56.5,7.1 L160,-23.8 M57.8,10.3 L160,-20.2 M61.7,14.2 L160,-15.3" stroke-width="1"/>
<path d="M55.5,6.5 L61,6 L61.7,14.2 L57.8,14.5 Z" stroke-width="1.2" fill="#fff"/>
<path d="M54.9,37.9 L160,5.2" stroke-width="1"/>
<path d="M54.9,-15.5 L54.9,38.7" stroke-width="2.6"/>
<ellipse cx="8.8" cy="6.3" rx="1.5" ry="1.8" fill="#000" stroke="none"/>
<ellipse cx="34.4" cy="-1.6" rx="1.5" ry="1.8" fill="#000" stroke="none"/>
<ellipse cx="8.8" cy="44.5" rx="1.5" ry="1.8" fill="#000" stroke="none"/>
<ellipse cx="34.4" cy="37.1" rx="1.5" ry="1.8" fill="#000" stroke="none"/>
<ellipse cx="75.5" cy="-14.2" rx="1.6" ry="1.9" stroke-width="1"/>
<ellipse cx="100.7" cy="-21.3" rx="1.6" ry="1.9" stroke-width="1"/>
<ellipse cx="75.5" cy="24.8" rx="1.6" ry="1.9" stroke-width="1"/>
<ellipse cx="100.7" cy="16.9" rx="1.6" ry="1.9" stroke-width="1"/>
</g>
</g>
<circle cx="472" cy="868.6" r="40" fill="#fff" stroke="none"/>
<path d="M495.4,846.78 L502.7,842.5 L497.3,861 L479.6,856 L485.23,850.4 A22.5,22.5 0 1,0 488.46,883.94 L495.4,890.42 A32,32 0 1,1 495.4,846.78 Z" fill="#a3a3a3" stroke="none"/>
<text x="506.9" y="725.7" font-size="19.6" font-family="Liberation Sans, sans-serif" fill="#000" stroke="#000" stroke-width="0.45">B/B1</text>
<line x1="526.1" y1="727.7" x2="521.9" y2="739.1" stroke="#000" stroke-width="0.9" />
<line x1="507.4" y1="827.4" x2="522.19" y2="800.05" stroke="#000" stroke-width="3.1" stroke-linecap="butt"/>
<polygon points="527.9,789.5 526.59,802.43 517.79,797.68" fill="#000" stroke="none"/>
<g transform="translate(524.9,830.9) scale(1)" stroke="#000" fill="none" stroke-width="1.3" stroke-linejoin="round">
<path d="M-9.6,4.6 L-9.2,13 L-4.6,19.1 L-4.2,30.6 Q-1.2,34.5 1.9,30.6 L1.9,14.5 L3,5.4 Z" fill="#fff"/>
<path d="M-1.9,17 L-1.6,29.5 M0.3,16.5 L0.3,29.3" stroke-width="1"/>
<path d="M-7.5,-6.3 L-0.5,-5.3 L0.5,5.3 L-6,3.5 Z" fill="#fff"/>
<ellipse cx="-6.9" cy="-1.5" rx="3.8" ry="5" transform="rotate(-12 -6.9 -1.5)" fill="#fff"/>
<path d="M-6.8,-6 L-3.6,-5.6 L-3.2,4.7 L-6.2,4 Z" fill="#222" stroke="none"/>
<ellipse cx="0" cy="0" rx="4.2" ry="5.3" transform="rotate(-12 0 0)" fill="#fff"/>
</g>
<line x1="528.3" y1="840.3" x2="542" y2="844.7" stroke="#000" stroke-width="0.8" />
<ellipse cx="552.2" cy="844.7" rx="10" ry="8.8" fill="#000"/>
<circle cx="461" cy="728.7" r="32.8" fill="#fff" stroke="none"/>
<circle cx="461" cy="728.7" r="30.4" fill="#fff" stroke="#000" stroke-width="4.2"/>
<g transform="translate(461,728.7) scale(0.07) translate(-487,-490)" stroke="#000" fill="none" stroke-linejoin="miter">
<path d="M195,400 L270,350 L395,630 Z" stroke-width="24" fill="#fff"/>
<path d="M245,405 L262,394 L350,585 Z" fill="#000" stroke="none"/>
<path d="M275,265 L380,232 L400,640 Z" stroke-width="24" fill="#fff"/>
<path d="M318,292 L358,280 L372,520 Z" fill="#000" stroke="none"/>
<path d="M395,610 L395,160 L630,160 L630,560 Z" stroke-width="26" fill="#fff"/>
<circle cx="418" cy="183" r="17" fill="#000" stroke="none"/><circle cx="607" cy="183" r="17" fill="#000" stroke="none"/>
<path d="M410,540 L460,600 L410,600 Z" fill="#000" stroke="none"/>
<circle cx="515" cy="235" r="16" fill="#000" stroke="none"/>
<circle cx="515" cy="372" r="72" stroke-width="24" fill="#fff"/>
<path d="M470,745 L470,660 Q450,620 455,590 L455,470 Q455,420 500,420 Q545,420 545,470 L545,545 Q560,560 605,540 L605,430 Q640,470 690,545 Q700,570 680,610 L630,700 L630,745 Z" stroke-width="22" fill="#fff"/>
<rect x="447" y="752" width="200" height="70" stroke-width="22" fill="#fff"/>
<path d="M475,780 L475,805 M465,790 L485,790" stroke-width="6"/>
</g>
<defs><clipPath id="sc4"><circle cx="690.7" cy="802.6" r="58.1"/></clipPath></defs>
<circle cx="690.7" cy="802.6" r="59.7" fill="#fff" stroke="#000" stroke-width="3.2"/>
<g clip-path="url(#sc4)"><g transform="translate(650.7,788.6) scale(0.69)" stroke="#000" fill="none">
<path d="M0,0 L53.4,-15 M1,2.2 L53.4,-12.8" stroke-width="1.45"/>
<path d="M3,0 L3,51.5 M-0.5,1 L4,-0.3 M-0.5,52.5 L4,51.2" stroke-width="1.88"/>
<path d="M-0.3,52.1 L54.9,37.9 M-0.5,49.8 L2,49.2" stroke-width="1.45"/>
<path d="M50.2,-16.6 L160,-47.4 M52,-14.2 L160,-44.6" stroke-width="1.45"/>
<path d="M28.1,-26.4 L160,-66.6 M35.5,-25.3 L160,-63.3" stroke-width="1.45"/>
<path d="M27.5,-26.3 L35.5,-25.3 L41.5,-13.5 L37.3,-12.6 Z" stroke-width="1.67" fill="#fff" stroke-linejoin="round"/>
<path d="M56.5,7.1 L160,-23.8 M57.8,10.3 L160,-20.2 M61.7,14.2 L160,-15.3" stroke-width="1.45"/>
<path d="M55.5,6.5 L61,6 L61.7,14.2 L57.8,14.5 Z" stroke-width="1.74" fill="#fff"/>
<path d="M54.9,37.9 L160,5.2" stroke-width="1.45"/>
<path d="M54.9,-15.5 L54.9,38.7" stroke-width="3.77"/>
<ellipse cx="8.8" cy="6.3" rx="1.5" ry="1.8" fill="#000" stroke="none"/>
<ellipse cx="34.4" cy="-1.6" rx="1.5" ry="1.8" fill="#000" stroke="none"/>
<ellipse cx="8.8" cy="44.5" rx="1.5" ry="1.8" fill="#000" stroke="none"/>
<ellipse cx="34.4" cy="37.1" rx="1.5" ry="1.8" fill="#000" stroke="none"/>
<ellipse cx="75.5" cy="-14.2" rx="1.6" ry="1.9" stroke-width="1.45"/>
<ellipse cx="100.7" cy="-21.3" rx="1.6" ry="1.9" stroke-width="1.45"/>
<ellipse cx="75.5" cy="24.8" rx="1.6" ry="1.9" stroke-width="1.45"/>
<ellipse cx="100.7" cy="16.9" rx="1.6" ry="1.9" stroke-width="1.45"/>
</g>
</g>
<circle cx="763" cy="760.8" r="40" fill="#fff" stroke="none"/>
<path d="M786.4,738.98 L793.7,734.7 L788.3,753.2 L770.6,748.2 L776.23,742.6 A22.5,22.5 0 1,0 779.46,776.14 L786.4,782.62 A32,32 0 1,1 786.4,738.98 Z" fill="#a3a3a3" stroke="none"/>
<text x="676.14" y="756.58" font-size="13.52" font-family="Liberation Sans, sans-serif" fill="#000" stroke="#000" stroke-width="0.31">B/B1</text>
<line x1="689.55" y1="757.96" x2="686.65" y2="765.83" stroke="#000" stroke-width="0.9" />
<line x1="672.8" y1="824.6" x2="684.43" y2="804.65" stroke="#000" stroke-width="2.139" stroke-linecap="butt"/>
<polygon points="688.6,797.5 687.41,806.39 681.45,802.92" fill="#000" stroke="none"/>
<g transform="translate(675.4,831) scale(0.66)" stroke="#000" fill="none" stroke-width="1.6" stroke-linejoin="round">
<path d="M-9.6,4.6 L-9.2,13 L-4.6,19.1 L-4.2,30.6 Q-1.2,34.5 1.9,30.6 L1.9,14.5 L3,5.4 Z" fill="#fff"/>
<path d="M-1.9,17 L-1.6,29.5 M0.3,16.5 L0.3,29.3" stroke-width="1"/>
<path d="M-7.5,-6.3 L-0.5,-5.3 L0.5,5.3 L-6,3.5 Z" fill="#fff"/>
<ellipse cx="-6.9" cy="-1.5" rx="3.8" ry="5" transform="rotate(-12 -6.9 -1.5)" fill="#fff"/>
<path d="M-6.8,-6 L-3.6,-5.6 L-3.2,4.7 L-6.2,4 Z" fill="#222" stroke="none"/>
<ellipse cx="0" cy="0" rx="4.2" ry="5.3" transform="rotate(-12 0 0)" fill="#fff"/>
</g>
<line x1="677.3" y1="837.3" x2="687" y2="840.4" stroke="#000" stroke-width="0.8" />
<ellipse cx="694.3" cy="841" rx="7.6" ry="6.3" fill="#000"/>
<circle cx="752.2" cy="849.3" r="32.8" fill="#fff" stroke="none"/>
<circle cx="752.2" cy="849.3" r="30.4" fill="#fff" stroke="#000" stroke-width="4.2"/>
<g transform="translate(752.2,849.3) scale(0.07) translate(-487,-490)" stroke="#000" fill="none" stroke-linejoin="miter">
<path d="M195,400 L270,350 L395,630 Z" stroke-width="24" fill="#fff"/>
<path d="M245,405 L262,394 L350,585 Z" fill="#000" stroke="none"/>
<path d="M275,265 L380,232 L400,640 Z" stroke-width="24" fill="#fff"/>
<path d="M318,292 L358,280 L372,520 Z" fill="#000" stroke="none"/>
<path d="M395,610 L395,160 L630,160 L630,560 Z" stroke-width="26" fill="#fff"/>
<circle cx="418" cy="183" r="17" fill="#000" stroke="none"/><circle cx="607" cy="183" r="17" fill="#000" stroke="none"/>
<path d="M410,540 L460,600 L410,600 Z" fill="#000" stroke="none"/>
<circle cx="515" cy="235" r="16" fill="#000" stroke="none"/>
<circle cx="515" cy="372" r="72" stroke-width="24" fill="#fff"/>
<path d="M470,745 L470,660 Q450,620 455,590 L455,470 Q455,420 500,420 Q545,420 545,470 L545,545 Q560,560 605,540 L605,430 Q640,470 690,545 Q700,570 680,610 L630,700 L630,745 Z" stroke-width="22" fill="#fff"/>
<rect x="447" y="752" width="200" height="70" stroke-width="22" fill="#fff"/>
<path d="M475,780 L475,805 M465,790 L485,790" stroke-width="6"/>
</g>
<rect x="40" y="1000" width="600" height="168" fill="#c6c6c6" stroke="#000" stroke-width="2"/>
<rect x="649" y="1000" width="262" height="168" fill="#c6c6c6" stroke="#000" stroke-width="2"/>
<line x1="13" y1="1194" x2="937" y2="1194" stroke="#000" stroke-width="2.2"/>
<g stroke="#000" fill="none">
<line x1="80" y1="1035" x2="234" y2="1035" stroke="#000" stroke-width="2.0" />
<line x1="70" y1="1040" x2="240" y2="1040" stroke="#000" stroke-width="2.0" />
<path d="M86,1046.2 L220,1046.2 Q221.8,1047.4 220,1048.6 L86,1048.6 Q84.2,1047.4 86,1046.2 Z" stroke-width="1.0" fill="#b4b4b4"/>
<line x1="86" y1="1046.2" x2="220" y2="1046.2" stroke="#000" stroke-width="1.8" />
<line x1="66" y1="1055" x2="236" y2="1055" stroke="#000" stroke-width="1.6" />
<line x1="80" y1="1035" x2="84" y2="1040" stroke="#000" stroke-width="1.0" />
<line x1="234" y1="1035" x2="239" y2="1039.5" stroke="#000" stroke-width="1.0" />
<line x1="70" y1="1040" x2="66" y2="1055" stroke="#000" stroke-width="1.1" />
<line x1="87.3" y1="1040" x2="84.6" y2="1055" stroke="#000" stroke-width="1.1" />
<line x1="240" y1="1040" x2="236" y2="1055" stroke="#000" stroke-width="1.1" />
<circle cx="80" cy="1053.4" r="0.55" fill="#000" stroke="none"/>
<circle cx="88" cy="1053.4" r="0.55" fill="#000" stroke="none"/>
<circle cx="96" cy="1053.4" r="0.55" fill="#000" stroke="none"/>
<circle cx="222" cy="1053.4" r="0.55" fill="#000" stroke="none"/>
<circle cx="214" cy="1053.4" r="0.55" fill="#000" stroke="none"/>
<circle cx="196" cy="1053.4" r="0.55" fill="#000" stroke="none"/>
</g>
<g stroke="#000" fill="none">
<line x1="290.8" y1="1034" x2="479.6" y2="1034" stroke="#000" stroke-width="2.0" />
<line x1="279.3" y1="1038.7" x2="485" y2="1038.7" stroke="#000" stroke-width="2.0" />
<path d="M297.6,1046.5 L467,1046.5 Q468.8,1047.7 467,1048.9 L297.6,1048.9 Q295.8,1047.7 297.6,1046.5 Z" stroke-width="1.0" fill="#b4b4b4"/>
<line x1="297.6" y1="1046.5" x2="467" y2="1046.5" stroke="#000" stroke-width="1.8" />
<line x1="274.6" y1="1054.7" x2="480" y2="1054.7" stroke="#000" stroke-width="1.6" />
<line x1="290.8" y1="1034" x2="294.8" y2="1038.7" stroke="#000" stroke-width="1.0" />
<line x1="479.6" y1="1034" x2="484.6" y2="1038.2" stroke="#000" stroke-width="1.0" />
<line x1="279.3" y1="1038.7" x2="274.6" y2="1054.7" stroke="#000" stroke-width="1.1" />
<line x1="296.6" y1="1038.7" x2="293.2" y2="1054.7" stroke="#000" stroke-width="1.1" />
<line x1="485" y1="1038.7" x2="480" y2="1054.7" stroke="#000" stroke-width="1.1" />
<circle cx="288.6" cy="1053.1" r="0.55" fill="#000" stroke="none"/>
<circle cx="296.6" cy="1053.1" r="0.55" fill="#000" stroke="none"/>
<circle cx="304.6" cy="1053.1" r="0.55" fill="#000" stroke="none"/>
<circle cx="466" cy="1053.1" r="0.55" fill="#000" stroke="none"/>
<circle cx="458" cy="1053.1" r="0.55" fill="#000" stroke="none"/>
<circle cx="440" cy="1053.1" r="0.55" fill="#000" stroke="none"/>
</g>
<g stroke="#000" fill="none">
<line x1="74.5" y1="1099.7" x2="228" y2="1099.7" stroke="#000" stroke-width="2.0" />
<line x1="77.3" y1="1105" x2="233.6" y2="1105" stroke="#000" stroke-width="2.0" />
<path d="M99.2,1111.6 L233.6,1111.6 Q235.4,1112.8 233.6,1114 L99.2,1114 Q97.4,1112.8 99.2,1111.6 Z" stroke-width="1.0" fill="#b4b4b4"/>
<line x1="99.2" y1="1111.6" x2="233.6" y2="1111.6" stroke="#000" stroke-width="1.8" />
<line x1="75.4" y1="1119.3" x2="228" y2="1119.3" stroke="#000" stroke-width="1.6" />
<line x1="74.5" y1="1099.7" x2="78.5" y2="1105" stroke="#000" stroke-width="1.0" />
<line x1="228" y1="1099.7" x2="233" y2="1104.5" stroke="#000" stroke-width="1.0" />
<line x1="77.3" y1="1105" x2="75.4" y2="1119.3" stroke="#000" stroke-width="1.2" />
<line x1="80.3" y1="1106" x2="78.9" y2="1118.3" stroke="#000" stroke-width="0.8" />
<line x1="233.6" y1="1105" x2="233.1" y2="1119.3" stroke="#000" stroke-width="1.0" />
<circle cx="89.4" cy="1117.7" r="0.55" fill="#000" stroke="none"/>
<circle cx="97.4" cy="1117.7" r="0.55" fill="#000" stroke="none"/>
<circle cx="105.4" cy="1117.7" r="0.55" fill="#000" stroke="none"/>
<circle cx="214" cy="1117.7" r="0.55" fill="#000" stroke="none"/>
<circle cx="206" cy="1117.7" r="0.55" fill="#000" stroke="none"/>
<circle cx="188" cy="1117.7" r="0.55" fill="#000" stroke="none"/>
</g>
<g stroke="#000" fill="none">
<line x1="278.8" y1="1093.2" x2="466.7" y2="1093.2" stroke="#000" stroke-width="2.0" />
<line x1="282" y1="1097.9" x2="472.3" y2="1097.9" stroke="#000" stroke-width="2.0" />
<path d="M303,1105.5 L472.3,1105.5 Q474.1,1106.7 472.3,1107.9 L303,1107.9 Q301.2,1106.7 303,1105.5 Z" stroke-width="1.0" fill="#b4b4b4"/>
<line x1="303" y1="1105.5" x2="472.3" y2="1105.5" stroke="#000" stroke-width="1.8" />
<line x1="280" y1="1113.4" x2="472" y2="1113.4" stroke="#000" stroke-width="1.6" />
<line x1="278.8" y1="1093.2" x2="282.8" y2="1097.9" stroke="#000" stroke-width="1.0" />
<line x1="466.7" y1="1093.2" x2="471.7" y2="1097.4" stroke="#000" stroke-width="1.0" />
<line x1="282" y1="1097.9" x2="280" y2="1113.4" stroke="#000" stroke-width="1.2" />
<line x1="285" y1="1098.9" x2="283.5" y2="1112.4" stroke="#000" stroke-width="0.8" />
<line x1="472.3" y1="1097.9" x2="471.8" y2="1113.4" stroke="#000" stroke-width="1.0" />
<circle cx="294" cy="1111.8" r="0.55" fill="#000" stroke="none"/>
<circle cx="302" cy="1111.8" r="0.55" fill="#000" stroke="none"/>
<circle cx="310" cy="1111.8" r="0.55" fill="#000" stroke="none"/>
<circle cx="458" cy="1111.8" r="0.55" fill="#000" stroke="none"/>
<circle cx="450" cy="1111.8" r="0.55" fill="#000" stroke="none"/>
<circle cx="432" cy="1111.8" r="0.55" fill="#000" stroke="none"/>
</g>
<rect x="136.1" y="1060.1" width="38.9" height="22.5" fill="#fff" stroke="#000" stroke-width="2"/>
<rect x="362" y="1059" width="37.7" height="22.5" fill="#fff" stroke="#000" stroke-width="2"/>
<rect x="133.2" y="1124.8" width="48" height="23.9" fill="#fff" stroke="#000" stroke-width="2"/>
<rect x="357" y="1125.2" width="46.8" height="23.3" fill="#fff" stroke="#000" stroke-width="2"/>
<rect x="546.1" y="1126" width="43" height="21.8" fill="#fff" stroke="#000" stroke-width="2"/>
<rect x="679.2" y="1119" width="43.4" height="22.2" fill="#fff" stroke="#000" stroke-width="2"/>
<rect x="821.3" y="1128" width="43.5" height="21.6" fill="#fff" stroke="#000" stroke-width="2"/>
<circle cx="560.5" cy="998.5" r="56.3" fill="#fff" stroke="#000" stroke-width="6.4"/>
<defs><clipPath id="ak"><circle cx="560.5" cy="998.5" r="53"/></clipPath></defs>
<g clip-path="url(#ak)" stroke="#000" fill="#fff" stroke-linejoin="round">
<path d="M520.2,978.4 L528.4,974 L536.6,979 L548,1006.8 L616,1006.8 L616,1023.4 L545,1023.4 Q535,1022.5 531,1015 L520.8,986.6 Z" stroke-width="2.6"/>
<path d="M520.8,986.6 L529,990.4 L535.3,987.8 L536.6,979" stroke-width="1.6" fill="none"/>
<path d="M529,990.4 L540.5,1016 L546,1017.4 L616,1017.4" stroke-width="1.4" fill="none"/>
<path d="M535.3,987.8 L546.5,1009.8 L616,1009.8" stroke-width="1.1" fill="none"/>
</g>
<g stroke="#000" stroke-width="1.1">
<rect x="559.5" y="1086" width="15" height="32" rx="5" fill="#c6c6c6"/>
<path d="M559.5,1091.5 Q567,1089 574.5,1091.5" fill="none" stroke-width="0.9"/>
<path d="M559.5,1094.6 Q567,1092.1 574.5,1094.6" fill="none" stroke-width="0.9"/>
<path d="M559.5,1097.7 Q567,1095.2 574.5,1097.7" fill="none" stroke-width="0.9"/>
<path d="M559.5,1100.8 Q567,1098.3 574.5,1100.8" fill="none" stroke-width="0.9"/>
<path d="M559.5,1103.9 Q567,1101.4 574.5,1103.9" fill="none" stroke-width="0.9"/>
<path d="M559.5,1107 Q567,1104.5 574.5,1107" fill="none" stroke-width="0.9"/>
<path d="M559.5,1110.1 Q567,1107.6 574.5,1110.1" fill="none" stroke-width="0.9"/>
<path d="M559.5,1113.2 Q567,1110.7 574.5,1113.2" fill="none" stroke-width="0.9"/>
<path d="M559.5,1116.3 Q567,1113.8 574.5,1116.3" fill="none" stroke-width="0.9"/>
<path d="M552,1077 L552,1083 Q567,1095 581.5,1083 L581.5,1077" fill="#c6c6c6"/>
<ellipse cx="566.8" cy="1077" rx="14.8" ry="8" fill="#c6c6c6"/>
<ellipse cx="566.5" cy="1076" rx="6" ry="3.6" fill="#bdbdbd"/>
<path d="M563,1074 L566.5,1073 L570,1074 L570,1078 L566.5,1079 L563,1078 Z" fill="none" stroke-width="0.8"/>
</g>
<g transform="translate(696.3,1070.8) scale(1,1) translate(-696.3,-1070.8)" stroke="#000" fill="none" stroke-width="1.25">
<path d="M702.5,1062.5 L704.5,1062 L705.5,1075 L703.5,1075.6 Z" fill="#333" stroke="none"/>
<path d="M695.8,1064.2 L706.3,1061.3 M698.4,1077.1 L707.4,1074.5"/>
<ellipse cx="708.7" cy="1067.8" rx="4" ry="6.7" transform="rotate(-15 708.7 1067.8)"/>
<ellipse cx="696.3" cy="1070.8" rx="4.2" ry="6.3" transform="rotate(-20 696.3 1070.8)"/>
<path d="M696.6,1077.1 L696.8,1084 L698,1091.3 L700.5,1095.5 M707.1,1075 L708.7,1088.7 L703.7,1095 M705.3,1076.5 L706.6,1088.3" />
<path d="M694.2,1091 C693,1100 693.5,1113 697.4,1113.4 C702,1114 706,1108 705.8,1096 M697.4,1092 C697,1100 697,1111 700,1111.8 C703,1111 703.5,1100 703,1096"/>
</g>
<g transform="translate(838,1080.5) scale(1,1) translate(-696.3,-1070.8)" stroke="#000" fill="none" stroke-width="1.25">
<path d="M702.5,1062.5 L704.5,1062 L705.5,1075 L703.5,1075.6 Z" fill="#333" stroke="none"/>
<path d="M695.8,1064.2 L706.3,1061.3 M698.4,1077.1 L707.4,1074.5"/>
<ellipse cx="708.7" cy="1067.8" rx="4" ry="6.7" transform="rotate(-15 708.7 1067.8)"/>
<ellipse cx="696.3" cy="1070.8" rx="4.2" ry="6.3" transform="rotate(-20 696.3 1070.8)"/>
<path d="M696.6,1077.1 L696.8,1084 L698,1091.3 L700.5,1095.5 M707.1,1075 L708.7,1088.7 L703.7,1095 M705.3,1076.5 L706.6,1088.3" />
<path d="M694.2,1091 C693,1100 693.5,1113 697.4,1113.4 C702,1114 706,1108 705.8,1096 M697.4,1092 C697,1100 697,1111 700,1111.8 C703,1111 703.5,1100 703,1096"/>
</g>
<circle cx="829.2" cy="999.5" r="56" fill="#fff" stroke="#000" stroke-width="6"/>
<g transform="translate(829.2,999.5) scale(0.13) translate(-487,-490)" stroke="#000" fill="none" stroke-linejoin="miter">
<path d="M195,400 L270,350 L395,630 Z" stroke-width="24" fill="#fff"/>
<path d="M245,405 L262,394 L350,585 Z" fill="#000" stroke="none"/>
<path d="M275,265 L380,232 L400,640 Z" stroke-width="24" fill="#fff"/>
<path d="M318,292 L358,280 L372,520 Z" fill="#000" stroke="none"/>
<path d="M395,610 L395,160 L630,160 L630,560 Z" stroke-width="26" fill="#fff"/>
<circle cx="418" cy="183" r="17" fill="#000" stroke="none"/><circle cx="607" cy="183" r="17" fill="#000" stroke="none"/>
<path d="M410,540 L460,600 L410,600 Z" fill="#000" stroke="none"/>
<circle cx="515" cy="235" r="16" fill="#000" stroke="none"/>
<circle cx="515" cy="372" r="72" stroke-width="24" fill="#fff"/>
<path d="M470,745 L470,660 Q450,620 455,590 L455,470 Q455,420 500,420 Q545,420 545,470 L545,545 Q560,560 605,540 L605,430 Q640,470 690,545 Q700,570 680,610 L630,700 L630,745 Z" stroke-width="22" fill="#fff"/>
<rect x="447" y="752" width="200" height="70" stroke-width="22" fill="#fff"/>
<path d="M475,780 L475,805 M465,790 L485,790" stroke-width="6"/>
</g>
</svg>
</body></html>
